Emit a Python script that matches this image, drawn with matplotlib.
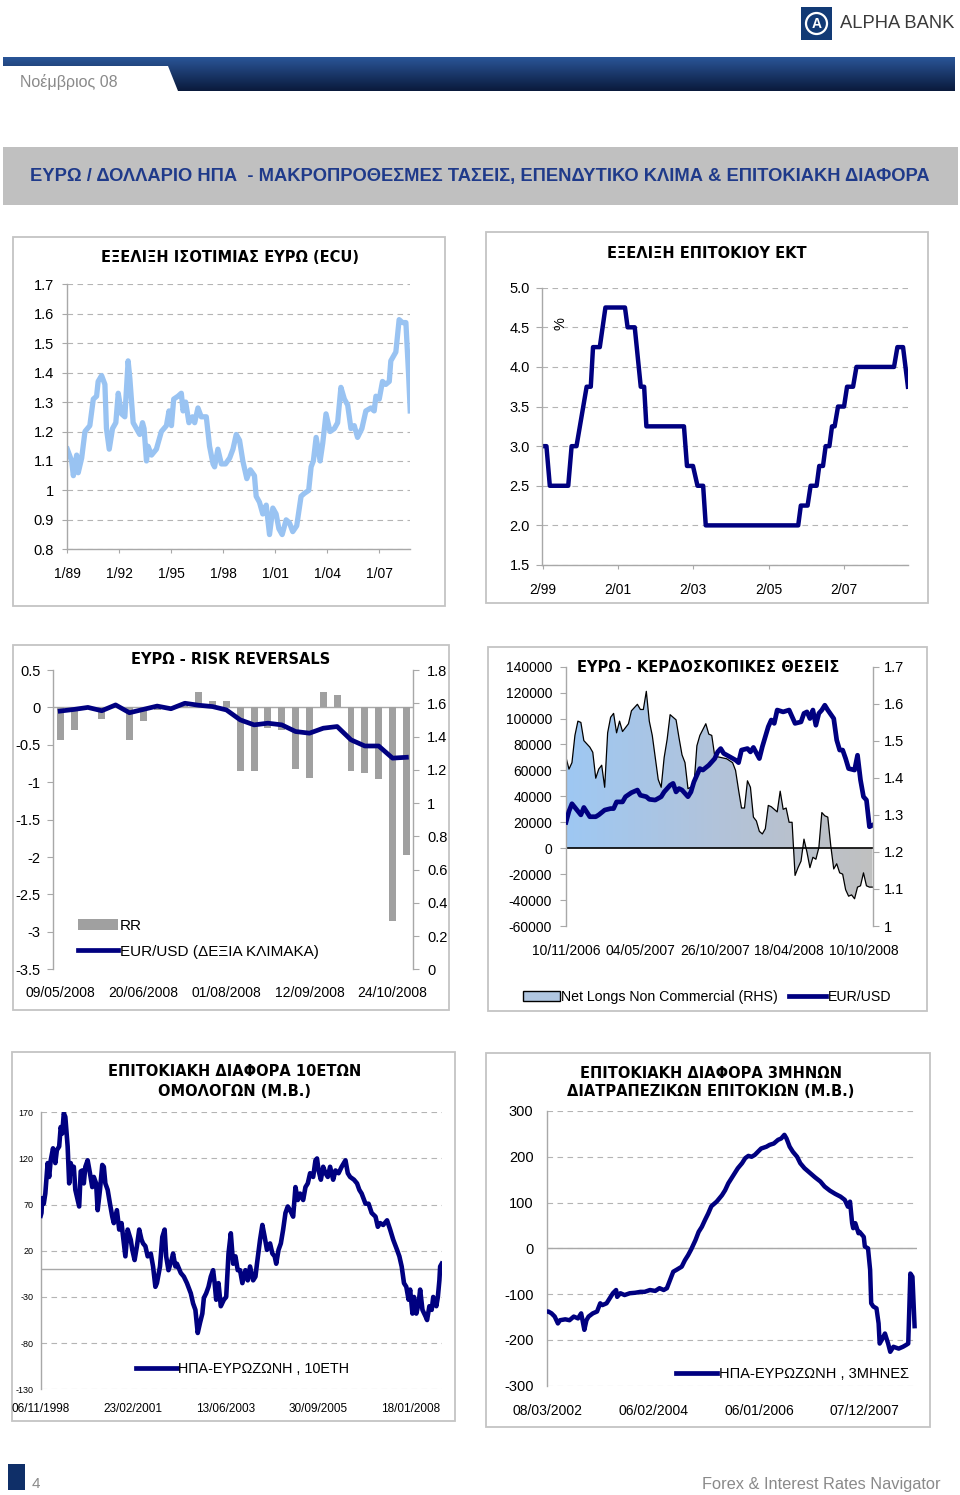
import numpy as np
import matplotlib
matplotlib.use('Agg')
import matplotlib.pyplot as plt
import matplotlib.font_manager as fm
from matplotlib.patches import Rectangle, Polygon, Patch, Circle
from matplotlib.lines import Line2D
from matplotlib.colors import LinearSegmentedColormap
from matplotlib.ticker import FuncFormatter

# --- data ---
# panel 1: EUR (ECU) / USD, fractional years
ecu_year = [1989.00, 1989.25, 1989.35, 1989.54, 1989.63, 1989.83, 1990.02, 1990.30, 1990.50, 1990.69,
            1990.78, 1990.98, 1991.17, 1991.26, 1991.42, 1991.61, 1991.80, 1991.94, 1992.13, 1992.32,
            1992.51, 1992.61, 1992.80, 1992.99, 1993.18, 1993.34, 1993.43, 1993.57, 1993.66, 1993.86,
            1994.14, 1994.43, 1994.72, 1994.87, 1995.01, 1995.14, 1995.39, 1995.58, 1995.68, 1995.83,
            1996.02, 1996.22, 1996.35, 1996.54, 1996.73, 1997.02, 1997.21, 1997.41, 1997.50, 1997.69,
            1997.89, 1998.13, 1998.37, 1998.56, 1998.75, 1998.94, 1999.13, 1999.36, 1999.56, 1999.80,
            1999.90, 2000.09, 2000.28, 2000.48, 2000.67, 2000.86, 2001.05, 2001.21, 2001.40, 2001.63,
            2001.82, 2002.01, 2002.24, 2002.49, 2002.68, 2002.93, 2003.07, 2003.20, 2003.36, 2003.59,
            2003.74, 2003.93, 2004.16, 2004.41, 2004.60, 2004.79, 2004.99, 2005.18, 2005.37, 2005.56,
            2005.75, 2006.00, 2006.23, 2006.52, 2006.71, 2006.81, 2007.00, 2007.19, 2007.38, 2007.58,
            2007.67, 2007.96, 2008.15, 2008.34, 2008.54, 2008.69, 2008.79]
ecu_value = [1.14, 1.10, 1.05, 1.12, 1.06, 1.11, 1.20, 1.22, 1.31, 1.32,
             1.37, 1.39, 1.36, 1.21, 1.14, 1.21, 1.23, 1.33, 1.26, 1.25,
             1.44, 1.38, 1.23, 1.21, 1.19, 1.23, 1.21, 1.10, 1.15, 1.12,
             1.14, 1.20, 1.22, 1.27, 1.22, 1.31, 1.32, 1.33, 1.27, 1.30,
             1.23, 1.25, 1.23, 1.28, 1.25, 1.25, 1.15, 1.09, 1.08, 1.14,
             1.09, 1.09, 1.11, 1.14, 1.19, 1.17, 1.10, 1.04, 1.07, 1.05,
             0.98, 0.96, 0.92, 0.95, 0.85, 0.94, 0.92, 0.87, 0.85, 0.90,
             0.89, 0.86, 0.88, 0.98, 0.99, 1.00, 1.08, 1.10, 1.18, 1.10,
             1.16, 1.26, 1.20, 1.21, 1.23, 1.35, 1.31, 1.29, 1.21, 1.22,
             1.18, 1.21, 1.27, 1.28, 1.27, 1.32, 1.31, 1.37, 1.36, 1.37,
             1.44, 1.47, 1.58, 1.57, 1.57, 1.40, 1.27]
ecu_ticks = [1989, 1992, 1995, 1998, 2001, 2004, 2007]
ecu_tick_labels = ['1/89', '1/92', '1/95', '1/98', '1/01', '1/04', '1/07']

# panel 2: ECB refi rate (monthly points, fractional years)
ecb_year = [1999.08, 1999.17, 1999.26, 1999.75, 1999.84, 1999.97, 2000.24, 2000.35, 2000.41, 2000.59,
            2000.74, 2001.26, 2001.33, 2001.52, 2001.68, 2001.77, 2001.83, 2002.83, 2002.91, 2003.07,
            2003.19, 2003.34, 2003.41, 2005.87, 2005.94, 2006.12, 2006.20, 2006.36, 2006.43, 2006.53,
            2006.60, 2006.70, 2006.77, 2006.84, 2006.93, 2007.09, 2007.17, 2007.33, 2007.42, 2008.42,
            2008.51, 2008.66, 2008.79]
ecb_rate = [3.0, 3.0, 2.5, 2.5, 3.0, 3.0, 3.75, 3.75, 4.25, 4.25,
            4.75, 4.75, 4.5, 4.5, 3.75, 3.75, 3.25, 3.25, 2.75, 2.75,
            2.5, 2.5, 2.0, 2.0, 2.25, 2.25, 2.5, 2.5, 2.75, 2.75,
            3.0, 3.0, 3.25, 3.25, 3.5, 3.5, 3.75, 3.75, 4.0, 4.0,
            4.25, 4.25, 3.75]
ecb_ticks = [1999.08, 2001.08, 2003.08, 2005.08, 2007.08]
ecb_tick_labels = ['2/99', '2/01', '2/03', '2/05', '2/07']

# panel 3: weekly risk reversals and EUR/USD
rr_value = [-0.43, -0.30, -0.02, -0.16, 0.02, -0.43, -0.18, -0.04, -0.04, 0.02,
            0.20, 0.09, 0.09, -0.85, -0.85, -0.27, -0.30, -0.82, -0.94, 0.20,
            0.16, -0.85, -0.87, -0.96, -2.85, -1.97]
rr_eurusd = [1.553, 1.563, 1.575, 1.555, 1.590, 1.543, 1.563, 1.583, 1.567, 1.600,
             1.588, 1.580, 1.560, 1.500, 1.470, 1.480, 1.470, 1.430, 1.420, 1.450,
             1.460, 1.380, 1.343, 1.343, 1.270, 1.275]
rr_tick_pos = [0, 6, 12, 18, 24]
rr_tick_labels = ['09/05/2008', '20/06/2008', '01/08/2008', '12/09/2008', '24/10/2008']

# panel 4: net longs non commercial (weeks from 10/11/2006) and EUR/USD
nl_week = [0, 1, 2, 3, 4, 5, 6, 8, 9, 10, 11, 12, 13, 14, 15, 16, 17, 18, 19, 21,
           22, 24, 25, 26, 27, 28, 29, 31, 32, 33, 34, 35, 37, 38, 39, 40, 41, 43, 44, 45,
           47, 48, 49, 50, 52, 54, 56, 57, 58, 59, 60, 61, 62, 63, 64, 65, 66, 67, 68, 69,
           70, 71, 72, 73, 74, 75, 76, 77, 78, 79, 80, 81, 82, 83, 84, 85, 86, 87, 88, 89,
           90, 91, 92, 93, 94, 95, 96, 97, 98, 99, 100, 101, 102, 103]
nl_value = [70000, 61000, 66000, 87000, 98000, 97000, 83000, 78000, 74000, 54000,
            61000, 64000, 47000, 89000, 101000, 104000, 89000, 98000, 90000, 96000,
            106000, 111000, 107000, 107000, 121000, 98000, 87000, 53000, 47000, 70000,
            84000, 103000, 99000, 85000, 72000, 66000, 46000, 48000, 79000, 87000,
            96000, 88000, 87000, 71000, 70000, 69000, 66000, 60000, 45000, 31000,
            31000, 52000, 47000, 24000, 21000, 13000, 11000, 15000, 33000, 32000,
            30000, 28000, 44000, 30000, 31000, 20000, 20000, -21000, -15000, -10000,
            7000, -3000, -15000, -7000, -8500, 500, 27500, 25000, 24000, 2000,
            -16000, -12000, -19000, -20000, -32000, -37000, -36000, -39000, -30000, -29000,
            -19000, -29000, -30000, -30000]
fx_week = [0, 1, 2, 3, 5, 6, 8, 10, 11, 13, 15, 16, 17, 19, 20, 22, 24, 25, 27, 28,
           30, 32, 33, 35, 36, 37, 38, 39, 41, 42, 43, 45, 46, 48, 50, 51, 52, 53, 55, 57,
           58, 59, 61, 62, 63, 65, 66, 68, 69, 70, 71, 73, 75, 76, 77, 79, 80, 81, 82, 83,
           84, 85, 86, 87, 88, 90, 91, 92, 93, 94, 95, 97, 98, 99, 100, 101, 102, 103]
fx_value = [1.28, 1.31, 1.33, 1.32, 1.30, 1.32, 1.295, 1.295, 1.30, 1.313,
            1.317, 1.317, 1.335, 1.335, 1.349, 1.36, 1.367, 1.353, 1.349, 1.342,
            1.34, 1.349, 1.362, 1.38, 1.385, 1.362, 1.371, 1.367, 1.349, 1.362,
            1.389, 1.425, 1.421, 1.434, 1.452, 1.47, 1.479, 1.466, 1.457, 1.448,
            1.441, 1.475, 1.479, 1.47, 1.482, 1.452, 1.484, 1.538, 1.556, 1.547,
            1.583, 1.578, 1.583, 1.565, 1.547, 1.551, 1.574, 1.578, 1.56, 1.583,
            1.542, 1.574, 1.583, 1.596, 1.583, 1.56, 1.502, 1.475, 1.475, 1.452,
            1.425, 1.421, 1.461, 1.394, 1.349, 1.34, 1.268, 1.272]
nl_tick_pos = [0, 25, 50, 75, 100]
nl_tick_labels = ['10/11/2006', '04/05/2007', '26/10/2007', '18/04/2008', '10/10/2008']

# panel 5: US - eurozone 10y spread, bp (weeks from 06/11/1998)
s10_week = [0, 1, 2, 4, 6, 9, 11, 13, 16, 19, 21, 24, 26, 28, 30, 32, 35, 37, 39, 41,
            43, 45, 48, 50, 52, 54, 56, 58, 61, 64, 67, 69, 72, 74, 77, 80, 82, 84, 87, 90,
            93, 95, 99, 102, 105, 108, 110, 113, 117, 119, 122, 125, 128, 131, 133, 136, 139, 143, 146, 149,
            151, 155, 158, 161, 163, 166, 170, 172, 175, 177, 182, 186, 190, 195, 198, 201, 204, 207, 210, 212,
            215, 218, 221, 224, 226, 228, 231, 234, 238, 241, 244, 247, 250, 253, 256, 259, 262, 266, 269, 272,
            276, 279, 281, 285, 288, 291, 294, 298, 301, 304, 306, 309, 312, 315, 318, 321, 324, 328, 331, 334,
            337, 341, 344, 347, 350, 354, 357, 359, 361, 364, 367, 370, 373, 376, 380, 383, 387, 391, 396, 399,
            402, 407, 411, 414, 417, 422, 426, 430, 435, 438, 441, 445, 450, 454, 458, 463, 466, 469, 472, 475,
            478, 480, 483, 485, 488, 491, 493, 496, 500, 502, 505, 508, 510, 514, 516, 518, 519, 521]
s10_value = [58, 61, 77, 71, 82, 115, 100, 118, 131, 115, 129, 133, 154, 147, 169, 165, 133, 93, 115, 107,
             111, 86, 75, 68, 106, 107, 93, 111, 118, 104, 89, 100, 93, 64, 86, 113, 111, 93, 86, 71,
             57, 50, 64, 43, 50, 28, 14, 43, 32, 21, 10, 25, 43, 32, 28, 25, 14, 17, 3, -19,
             -15, 3, 35, 43, 14, -1, 10, 17, 3, 6, -4, -8, -15, -26, -37, -44, -69, -58, -48, -31,
             -26, -19, -8, -1, -15, -33, -15, -40, -33, -30, 17, 39, 6, 14, -1, -1, -15, -1, -12, 3,
             -12, -8, 6, 32, 48, 35, 21, 28, 17, 14, 6, 21, 28, 43, 61, 68, 64, 57, 89, 75,
             82, 75, 89, 93, 104, 100, 118, 120, 107, 97, 111, 104, 100, 111, 97, 107, 104, 111, 118, 104,
             100, 97, 93, 86, 82, 71, 71, 61, 57, 46, 50, 48, 53, 43, 32, 21, 14, 3, -15, -19,
             -33, -22, -48, -30, -48, -37, -22, -44, -51, -55, -40, -44, -30, -40, -30, -12, 3, 6]
s10_tick_pos = [0, 120, 240, 360, 480]
s10_tick_labels = ['06/11/1998', '23/02/2001', '13/06/2003', '30/09/2005', '18/01/2008']

# panel 6: US - eurozone 3m interbank spread, bp (weeks from 08/03/2002)
s3_week = [0, 1, 4, 7, 10, 12, 17, 21, 25, 29, 32, 35, 37, 39, 43, 47, 50, 52, 56, 59,
           62, 65, 66, 69, 73, 78, 83, 88, 92, 97, 102, 106, 110, 113, 116, 119, 122, 127, 130, 133,
           136, 140, 143, 146, 149, 152, 155, 160, 165, 168, 171, 174, 177, 180, 184, 187, 190, 193, 196, 199,
           202, 207, 210, 214, 218, 221, 224, 226, 229, 232, 236, 239, 243, 248, 253, 258, 262, 267, 272, 277,
           281, 284, 286, 288, 289, 291, 294, 295, 299, 300, 303, 305, 306, 308, 311, 313, 314, 316, 319, 322,
           324, 327, 332, 336, 339, 341, 343, 345, 347]
s3_value = [-138, -138, -142, -149, -164, -157, -155, -157, -149, -153, -142, -178, -157, -149, -142, -138, -120, -124, -120, -109,
            -98, -91, -106, -98, -102, -98, -97, -95, -95, -91, -93, -87, -91, -87, -69, -51, -47, -40, -26, -15,
            -2, 18, 36, 47, 62, 76, 92, 102, 116, 127, 142, 153, 164, 175, 186, 197, 202, 200, 204, 211,
            218, 222, 226, 229, 237, 240, 248, 240, 222, 211, 200, 186, 175, 165, 155, 146, 135, 126, 119, 113,
            106, 91, 102, 55, 44, 55, 33, 36, 25, 4, 0, -47, -120, -127, -131, -164, -208, -200, -186, -208,
            -226, -215, -219, -215, -211, -208, -55, -62, -170]
s3_tick_pos = [0, 100, 200, 300]
s3_tick_labels = ['08/03/2002', '06/02/2004', '06/01/2006', '07/12/2007']

# --- fonts ---
def pick(*names):
    for n in names:
        try:
            fm.findfont(fm.FontProperties(family=n), fallback_to_default=False)
            return n
        except ValueError:
            pass
    return None

SANS = pick('Liberation Sans', 'Arial') or 'DejaVu Sans'
plt.rcParams['font.family'] = [SANS, 'DejaVu Sans']
plt.rcParams['axes.unicode_minus'] = False
YT = 10.5   # y tick labels
XT = 10     # x tick labels
TFONT = ['DejaVu Sans']

NAVY = '#000080'
SPINE = '#a8a8a8'
GRID = '#b4b4b4'
BOX = '#c4c4c4'
W, H = 960, 1495


def rect(x0, y0, x1, y1):
    return [x0 / W, 1 - y1 / H, (x1 - x0) / W, (y1 - y0) / H]


def style(ax, left=True, bottom=True, right=False):
    for side, show in (('left', left), ('bottom', bottom), ('right', right), ('top', False)):
        ax.spines[side].set_visible(show)
        ax.spines[side].set_color(SPINE)
        ax.spines[side].set_linewidth(1.0)
    ax.set_facecolor('none')
    ax.tick_params(colors=SPINE, labelcolor='black', width=0.8)
    ax.tick_params(axis='y', labelsize=YT)
    ax.tick_params(axis='x', labelsize=XT)


def dashed_grid(ax):
    ax.yaxis.grid(True, linestyle=(0, (5, 4)), color=GRID, lw=0.8)
    ax.set_axisbelow(True)


fig = plt.figure(figsize=(9.6, 14.95), dpi=100)

# background layer in pixel coordinates
bg = fig.add_axes([0, 0, 1, 1])
bg.set_zorder(-1)
bg.axis('off')

band = Polygon([(3, 57), (955, 57), (955, 91), (178, 91), (168, 66), (3, 66)],
               closed=True, facecolor='none', edgecolor='none')
bg.add_patch(band)
band_cm = LinearSegmentedColormap.from_list('band', ['#2a5597', '#0a1a3c'])
im = bg.imshow(np.linspace(0, 1, 64).reshape(-1, 1), extent=(3, 955, 91, 57),
               cmap=band_cm, aspect='auto')
im.set_clip_path(band)
bg.text(20, 82, 'Νοέμβριος 08', color='#8a8a8a', fontsize=11.5, va='center', ha='left')

# logo
bg.add_patch(Rectangle((801, 7), 31, 33, facecolor='#123a75', edgecolor='none'))
bg.add_patch(Circle((816.5, 23.5), 10.5, facecolor='none', edgecolor='white', lw=1.6))
bg.text(816.5, 24, 'A', color='white', fontsize=10, fontweight='bold', ha='center', va='center')
bg.text(840, 24, 'ALPHA BANK', color='#3a3a3a', fontsize=13.2, va='center', ha='left')

# title bar
bg.add_patch(Rectangle((3, 147), 955, 58, facecolor='#c0c0c0', edgecolor='none'))
bg.text(480, 176, 'ΕΥΡΩ / ΔΟΛΛΑΡΙΟ ΗΠΑ  - ΜΑΚΡΟΠΡΟΘΕΣΜΕΣ ΤΑΣΕΙΣ, ΕΠΕΝΔΥΤΙΚΟ ΚΛΙΜΑ & ΕΠΙΤΟΚΙΑΚΗ ΔΙΑΦΟΡΑ',
        color='#1f3a8a', fontsize=13.2, fontweight='bold', ha='center', va='center')

# panel frames
for x0, y0, x1, y1 in [(13, 237, 445, 606), (486, 232, 928, 603), (13, 645, 449, 1010),
                       (488, 647, 927, 1011), (12, 1052, 455, 1421), (486, 1053, 930, 1427)]:
    bg.add_patch(Rectangle((x0, y0), x1 - x0, y1 - y0, facecolor='none', edgecolor=BOX, lw=1.3))

# panel titles
titles = [(230, 257, 'ΕΞΕΛΙΞΗ ΙΣΟΤΙΜΙΑΣ ΕΥΡΩ (ECU)'),
          (707, 253, 'ΕΞΕΛΙΞΗ ΕΠΙΤΟΚΙΟΥ ΕΚΤ'),
          (231, 659, 'ΕΥΡΩ - RISK REVERSALS'),
          (708, 667, 'ΕΥΡΩ - ΚΕΡΔΟΣΚΟΠΙΚΕΣ ΘΕΣΕΙΣ'),
          (235, 1072, 'ΕΠΙΤΟΚΙΑΚΗ ΔΙΑΦΟΡΑ 10ΕΤΩΝ'),
          (235, 1091, 'ΟΜΟΛΟΓΩΝ (Μ.Β.)'),
          (711, 1073, 'ΕΠΙΤΟΚΙΑΚΗ ΔΙΑΦΟΡΑ 3ΜΗΝΩΝ'),
          (711, 1092, 'ΔΙΑΤΡΑΠΕΖΙΚΩΝ ΕΠΙΤΟΚΙΩΝ (Μ.Β.)')]
for x, y, s in titles:
    bg.text(x, y, s, fontsize=10.5, fontweight='bold', family=TFONT, ha='center', va='center')

# footer
bg.add_patch(Rectangle((8, 1464), 17, 26, facecolor='#0f2f68', edgecolor='none'))
bg.text(32, 1484, '4', color='#8a8a8a', fontsize=11, va='center')
bg.text(940, 1484, 'Forex & Interest Rates Navigator', color='#8a8a8a', fontsize=11.8,
        va='center', ha='right')

bg.set_xlim(0, W)
bg.set_ylim(H, 0)

# ---- panel 1 ----
ax1 = fig.add_axes(rect(67.3, 284.3, 410.4, 549.3))
style(ax1)
dashed_grid(ax1)
ax1.plot(ecu_year, ecu_value, color='#99c3f2', lw=3.8, solid_joinstyle='round')
ax1.set_xlim(1989, 2008.8)
ax1.set_ylim(0.8, 1.7)
ax1.set_yticks(np.arange(0.8, 1.75, 0.1))
ax1.yaxis.set_major_formatter(FuncFormatter(lambda v, p: f'{v:g}'))
ax1.set_xticks(ecu_ticks, ecu_tick_labels)
ax1.tick_params(axis='y', length=3.5, pad=6)
ax1.tick_params(axis='x', length=3, pad=10)

# ---- panel 2 ----
ax2 = fig.add_axes(rect(542.3, 287.7, 908.3, 565))
style(ax2)
dashed_grid(ax2)
ax2.plot(ecb_year, ecb_rate, color=NAVY, lw=3.2)
ax2.set_xlim(1999.06, 2008.8)
ax2.set_ylim(1.5, 5.0)
ax2.set_yticks(np.arange(1.5, 5.01, 0.5))
ax2.yaxis.set_major_formatter(FuncFormatter(lambda v, p: f'{v:.1f}'))
ax2.set_xticks(ecb_ticks, ecb_tick_labels)
ax2.tick_params(axis='y', length=4, pad=5)
ax2.tick_params(axis='x', length=3, pad=10)
ax2.text(0.05, 0.87, '%', transform=ax2.transAxes, rotation=90, fontsize=10.5, ha='center', va='center')

# ---- panel 3 ----
ax3 = fig.add_axes(rect(53.3, 670, 413.3, 969.3))
style(ax3, bottom=False)
rr_x = np.arange(len(rr_value))
ax3.bar(rr_x, rr_value, width=0.5, color='#a0a0a0', zorder=2)
ax3.axhline(0, color=SPINE, lw=1.0, zorder=1)
ax3.set_xlim(-0.5, len(rr_value) - 0.5)
ax3.set_ylim(-3.5, 0.5)
ax3.set_yticks(np.arange(-3.5, 0.51, 0.5))
ax3.yaxis.set_major_formatter(FuncFormatter(lambda v, p: f'{v:g}'))
ax3.set_xticks(rr_tick_pos, rr_tick_labels)
ax3.tick_params(axis='y', length=4, pad=5)
ax3.tick_params(axis='x', length=0, pad=12)
ax3b = ax3.twinx()
style(ax3b, left=False, bottom=False, right=True)
ax3b.plot(rr_x, rr_eurusd, color=NAVY, lw=3.4)
ax3b.set_ylim(0, 1.8)
ax3b.set_yticks(np.arange(0, 1.81, 0.2))
ax3b.yaxis.set_major_formatter(FuncFormatter(lambda v, p: f'{v:g}'))
ax3b.tick_params(axis='y', length=4, pad=6)
ax3b.legend([Patch(facecolor='#a0a0a0', edgecolor='none'), Line2D([], [], color=NAVY, lw=3.4)],
            ['RR', 'EUR/USD (ΔΕΞΙΑ ΚΛΙΜΑΚΑ)'], loc='lower left', bbox_to_anchor=(0.04, 0.0),
            frameon=False, fontsize=11, handlelength=2.6, handletextpad=0.1, labelspacing=0.75,
            borderpad=0.2)

# ---- panel 4 ----
ax4 = fig.add_axes(rect(566, 666.7, 872.7, 926))
style(ax4, bottom=False)
fill = ax4.fill_between(nl_week, nl_value, 0, facecolor='none', edgecolor='none')
nl_cm = LinearSegmentedColormap.from_list('nl', ['#9ec8f3', '#b2c3da', '#c0c0c0'])
grad = ax4.imshow(np.linspace(0, 1, 256).reshape(1, -1), extent=(0, 103, -60000, 140000),
                  aspect='auto', cmap=nl_cm, origin='lower', zorder=1)
grad.set_clip_path(fill.get_paths()[0], transform=ax4.transData)
ax4.plot(nl_week, nl_value, color='black', lw=0.9, zorder=2)
ax4.axhline(0, color='black', lw=1.2, zorder=2)
ax4.set_xlim(0, 103.1)
ax4.set_ylim(-60000, 140000)
ax4.set_yticks(np.arange(-60000, 140001, 20000))
ax4.yaxis.set_major_formatter(FuncFormatter(lambda v, p: f'{v:.0f}'))
ax4.set_xticks(nl_tick_pos, nl_tick_labels)
ax4.tick_params(axis='y', length=4, pad=6, labelsize=10)
ax4.tick_params(axis='x', length=0, pad=13)
ax4b = ax4.twinx()
style(ax4b, left=False, bottom=False, right=True)
ax4b.plot(fx_week, fx_value, color=NAVY, lw=3.4)
ax4b.set_ylim(1.0, 1.7)
ax4b.set_yticks(np.arange(1.0, 1.71, 0.1))
ax4b.yaxis.set_major_formatter(FuncFormatter(lambda v, p: f'{v:g}'))
ax4b.tick_params(axis='y', length=4, pad=4)
ax4b.legend([Patch(facecolor='#b0c6e0', edgecolor='black', lw=1.0), Line2D([], [], color=NAVY, lw=3.4)],
            ['Net Longs Non Commercial (RHS)', 'EUR/USD'], loc='center', bbox_to_anchor=(0.46, -0.275),
            ncol=2, frameon=False, fontsize=10.2, handlelength=2.6, handletextpad=0.1, columnspacing=0.8)

# ---- panel 5 ----
ax5 = fig.add_axes(rect(40.7, 1112.3, 441.7, 1389.3))
style(ax5, bottom=False)
dashed_grid(ax5)
ax5.axhline(0, color=SPINE, lw=1.0, zorder=1)
ax5.plot(s10_week, s10_value, color=NAVY, lw=3.3, zorder=3)
ax5.set_xlim(0, 521)
ax5.set_ylim(-130, 170)
ax5.set_yticks(np.arange(-130, 171, 50))
ax5.set_xticks(s10_tick_pos, s10_tick_labels)
ax5.tick_params(axis='y', length=0, pad=5, labelsize=6.5)
ax5.tick_params(axis='x', length=0, pad=10, labelsize=8.5)
ax5.legend([Line2D([], [], color=NAVY, lw=3.4)], ['ΗΠΑ-ΕΥΡΩΖΩΝΗ , 10ΕΤΗ'], loc='center left',
           bbox_to_anchor=(0.22, 0.073), frameon=False, fontsize=10.4, handlelength=2.8,
           handletextpad=0.1, borderpad=0)

# ---- panel 6 ----
ax6 = fig.add_axes(rect(547.3, 1111, 916.7, 1385.7))
style(ax6, bottom=False)
dashed_grid(ax6)
ax6.axhline(0, color=SPINE, lw=1.0, zorder=1)
ax6.plot(s3_week, s3_value, color=NAVY, lw=3.2, zorder=3)
ax6.set_xlim(0, 349)
ax6.set_ylim(-300, 300)
ax6.set_yticks(np.arange(-300, 301, 100))
ax6.set_xticks(s3_tick_pos, s3_tick_labels)
ax6.tick_params(axis='y', length=0, pad=10)
ax6.tick_params(axis='x', length=0, pad=13)
ax6.legend([Line2D([], [], color=NAVY, lw=3.4)], ['ΗΠΑ-ΕΥΡΩΖΩΝΗ , 3ΜΗΝΕΣ'], loc='center left',
           bbox_to_anchor=(0.33, 0.043), frameon=False, fontsize=10.5, handlelength=2.8,
           handletextpad=0.1, borderpad=0)

fig.savefig('out.png', dpi=100)
